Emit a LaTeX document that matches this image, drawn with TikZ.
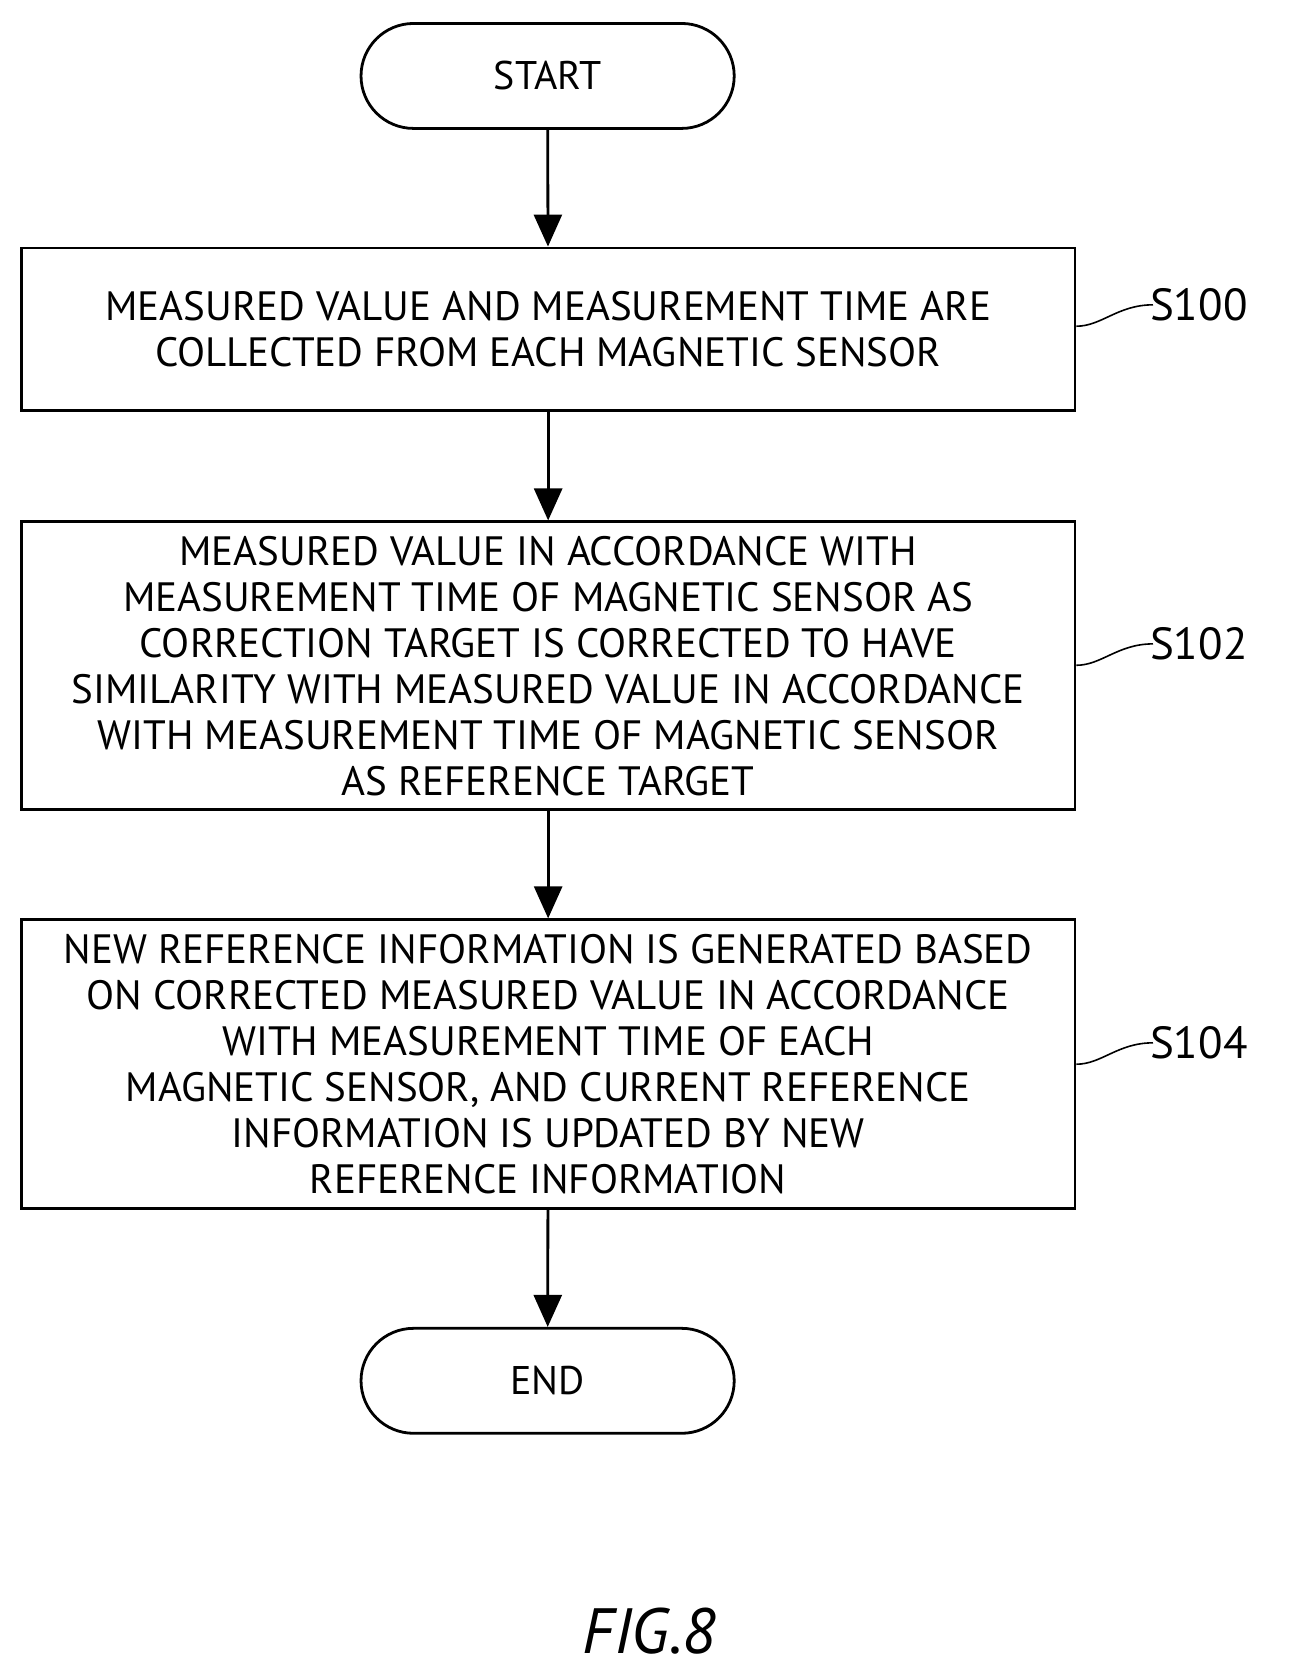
\documentclass[tikz,border=0pt]{standalone}
\usepackage{fontspec}
\setmainfont{PT Sans}
\usetikzlibrary{shapes.misc,arrows.meta}
\begin{document}
\begin{tikzpicture}[x=1.07pt,y=-1.07pt,
  term/.style={draw,line width=2.8pt,rounded rectangle,minimum width=380pt,minimum height=105pt,font=\fontsize{40}{46}\selectfont},
  procbox/.style={draw,line width=2.8pt,minimum width=1054pt,align=center,font=\fontsize{41}{46}\selectfont,inner sep=0pt},
  arr/.style={line width=2.8pt,-{Triangle[length=32pt,width=28pt]}},
  lab/.style={font=\fontsize{45}{48}\selectfont},
  sq/.style={line width=1.6pt}]
\useasboundingbox (0,0) rectangle (1208,1567);
\node[term] (start) at (512,71) {START};
\node[procbox,minimum height=163pt] (s100) at (512.5,308) {MEASURED VALUE AND MEASUREMENT TIME ARE\\COLLECTED FROM EACH MAGNETIC SENSOR};
\node[procbox,minimum height=288pt] (s102) at (512.5,622.5) {MEASURED VALUE IN ACCORDANCE WITH\\MEASUREMENT TIME OF MAGNETIC SENSOR AS\\CORRECTION TARGET IS CORRECTED TO HAVE\\SIMILARITY WITH MEASURED VALUE IN ACCORDANCE\\WITH MEASUREMENT TIME OF MAGNETIC SENSOR\\AS REFERENCE TARGET};
\node[procbox,minimum height=289pt] (s104) at (512.5,995) {NEW REFERENCE INFORMATION IS GENERATED BASED\\ON CORRECTED MEASURED VALUE IN ACCORDANCE\\WITH MEASUREMENT TIME OF EACH\\MAGNETIC SENSOR, AND CURRENT REFERENCE\\INFORMATION IS UPDATED BY NEW\\REFERENCE INFORMATION};
\node[term] (end) at (512,1291) {END};
\draw[arr] (start) -- (s100);
\draw[arr] (s100) -- (s102);
\draw[arr] (s102) -- (s104);
\draw[arr] (s104) -- (end);
\node[lab,anchor=west] (l100) at (1072,285) {S100};
\node[lab,anchor=west] (l102) at (1072,602) {S102};
\node[lab,anchor=west] (l104) at (1072,975) {S104};
\foreach \n/\y in {s100/285,s102/602,s104/975}{
  \draw[sq] (\n.east |- 0,\y+20) .. controls (1030,\y+20) and (1045,\y) .. (1078,\y);
}
\node[font=\fontsize{64}{70}\selectfont\itshape] (fig) at (607,1525) {FIG.8};
\end{tikzpicture}
\end{document}
